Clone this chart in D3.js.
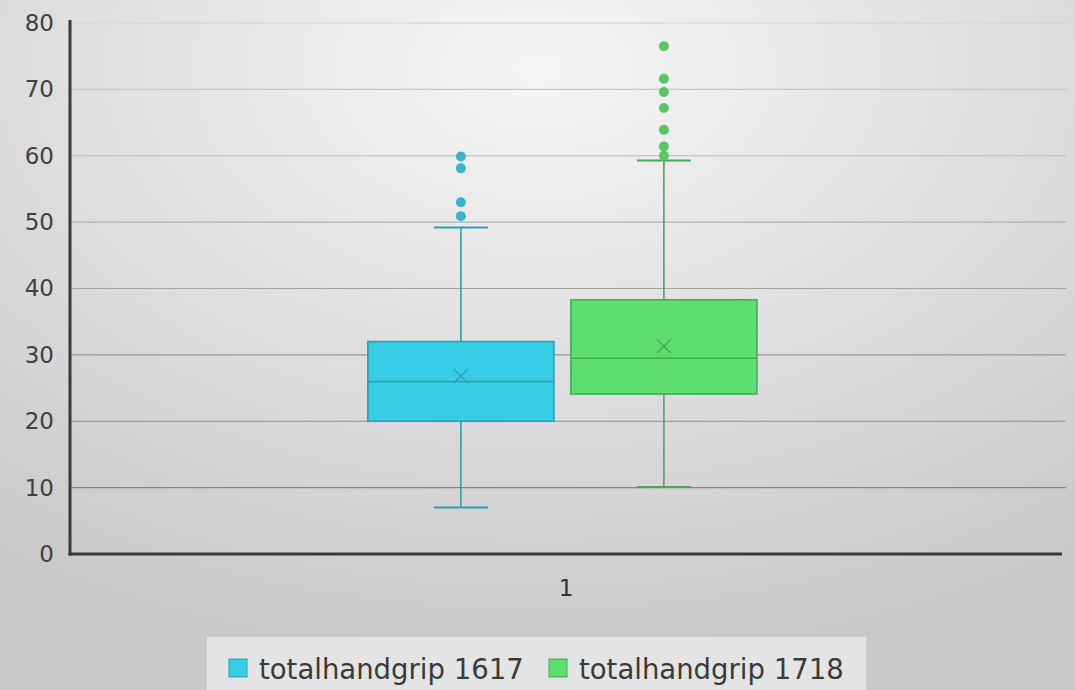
<!DOCTYPE html>
<html><head><meta charset="utf-8">
<script src="https://cdn.jsdelivr.net/npm/d3@7"></script>
<style>html,body{margin:0;padding:0;overflow:hidden;}svg{display:block;}</style>
</head><body>
<svg id="c" width="1075" height="690"></svg>
<script>
const categories = ["1"];
const seriesNames = ["totalhandgrip 1617", "totalhandgrip 1718"];
const whiskerLow = [7, 10.1];
const q1 = [20, 24.1];
const median = [26, 29.5];
const q3 = [32, 38.3];
const whiskerHigh = [49.2, 59.3];
const means = [26.8, 31.3];
const outliers = [
  [50.9, 53, 58.1, 59.9],
  [60.0, 61.4, 63.9, 67.2, 69.6, 71.6, 76.5]
];
const yTicks = [0, 10, 20, 30, 40, 50, 60, 70, 80];
const fills = ["#38cde6", "#5ede6e"];
const strokes = ["#2b9fb0", "#47a85a"];
const dotFills = ["#3ab4cc", "#57c765"];

const W = 1075, H = 690;
const svg = d3.select("#c");
const defs = svg.append("defs");
const g = defs.append("radialGradient").attr("id","bg").attr("cx","50%").attr("cy","10%").attr("r","85%");
g.append("stop").attr("offset","0%").attr("stop-color","#f6f6f6");
g.append("stop").attr("offset","100%").attr("stop-color","#c9c9c9");
svg.append("rect").attr("width",W).attr("height",H).attr("fill","url(#bg)");

const m = {l:70, r:1062, t:23, b:554};
const y = d3.scaleLinear().domain([0,80]).range([m.b, m.t]);
const x = d3.scaleBand().domain(categories).range([m.l, m.r]);
const xs = d3.scaleBand().domain(seriesNames).range([0, x.bandwidth()]).paddingInner(0.0837).paddingOuter(1.485).align(0.494);

// gridlines
svg.append("g").selectAll("line").data(yTicks.filter(d=>d>0)).join("line")
  .attr("x1", m.l).attr("x2", 1066).attr("y1", d=>y(d)).attr("y2", d=>y(d))
  .attr("stroke", d=>d3.interpolateRgb("#767676","#d2d2d2")(d/80)).attr("stroke-width",1.2);

// y axis
const yAx = svg.append("g").attr("transform",`translate(${m.l},0)`)
  .call(d3.axisLeft(y).tickValues(yTicks).tickSize(0).tickPadding(16));
yAx.select(".domain").remove();
yAx.selectAll("text").attr("font-family","DejaVu Sans").attr("font-size",23).attr("fill","#404040");
svg.append("line").attr("x1",m.l).attr("x2",m.l).attr("y1",20).attr("y2",m.b+1.5).attr("stroke","#3a3a3a").attr("stroke-width",3);

// x axis
const xAx = svg.append("g").attr("transform",`translate(0,${m.b})`)
  .call(d3.axisBottom(x).tickSize(0).tickPadding(26));
xAx.select(".domain").remove();
xAx.selectAll("text").attr("font-family","DejaVu Sans").attr("font-size",23).attr("fill","#333");
svg.append("line").attr("x1",m.l-1.5).attr("x2",1062).attr("y1",m.b).attr("y2",m.b).attr("stroke","#3a3a3a").attr("stroke-width",3);

// boxes
seriesNames.forEach((s,i)=>{
  const x0 = x(categories[0]) + xs(s);
  const bw = xs.bandwidth();
  const cx = x0 + bw/2;
  const gg = svg.append("g");
  const capW = 54;
  gg.append("line").attr("x1",cx).attr("x2",cx).attr("y1",y(whiskerHigh[i])).attr("y2",y(q3[i])).attr("stroke",strokes[i]).attr("stroke-width",1.6);
  gg.append("line").attr("x1",cx).attr("x2",cx).attr("y1",y(q1[i])).attr("y2",y(whiskerLow[i])).attr("stroke",strokes[i]).attr("stroke-width",1.6);
  gg.append("line").attr("x1",cx-capW/2).attr("x2",cx+capW/2).attr("y1",y(whiskerHigh[i])).attr("y2",y(whiskerHigh[i])).attr("stroke",strokes[i]).attr("stroke-width",2);
  gg.append("line").attr("x1",cx-capW/2).attr("x2",cx+capW/2).attr("y1",y(whiskerLow[i])).attr("y2",y(whiskerLow[i])).attr("stroke",strokes[i]).attr("stroke-width",2);
  gg.append("rect").attr("x",x0).attr("width",bw).attr("y",y(q3[i])).attr("height",y(q1[i])-y(q3[i]))
    .attr("fill",fills[i]).attr("stroke",strokes[i]).attr("stroke-width",1.6);
  gg.append("line").attr("x1",x0).attr("x2",x0+bw).attr("y1",y(median[i])).attr("y2",y(median[i])).attr("stroke",strokes[i]).attr("stroke-width",1.6);
  const my = y(means[i]), r = 7;
  gg.append("path").attr("d",`M${cx-r},${my-r}L${cx+r},${my+r}M${cx+r},${my-r}L${cx-r},${my+r}`).attr("stroke",strokes[i]).attr("stroke-width",1.4).attr("fill","none");
  gg.selectAll("circle").data(outliers[i]).join("circle")
    .attr("cx",cx).attr("cy",d=>y(d)).attr("r",5).attr("fill",dotFills[i]);
});

// legend
const lg = svg.append("g");
lg.append("rect").attr("x",207).attr("y",637).attr("width",659).attr("height",60).attr("fill","#e4e4e4");
const items = lg.selectAll("g.it").data(seriesNames).join("g").attr("class","it");
const lx = [229, 549];
items.append("rect").attr("x",(d,i)=>lx[i]).attr("y",659).attr("width",18).attr("height",18)
  .attr("fill",(d,i)=>fills[i]).attr("stroke",(d,i)=>strokes[i]).attr("stroke-width",1);
items.append("text").attr("x",(d,i)=>lx[i]+30).attr("y",679).text(d=>d)
  .attr("font-family","DejaVu Sans").attr("font-size",27.5).attr("fill","#3a3a3a");
</script>
</body></html>
